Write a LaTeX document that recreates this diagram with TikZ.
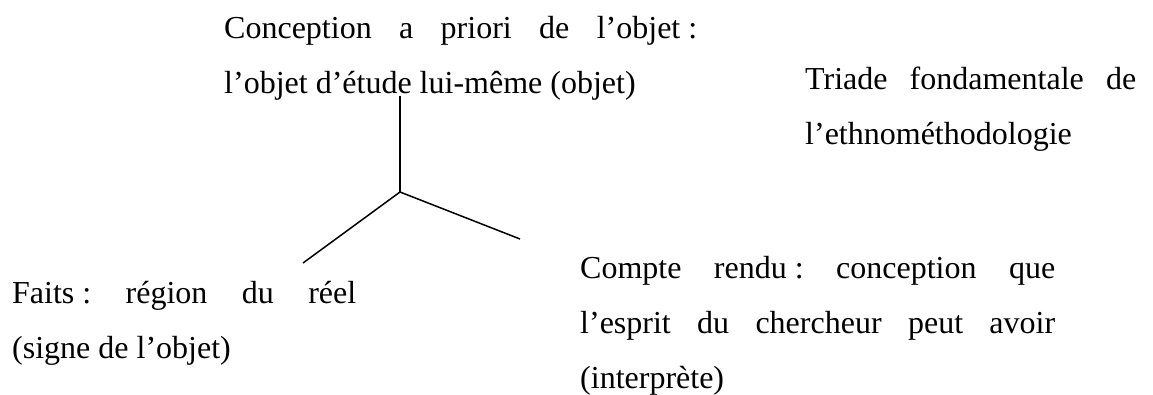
\documentclass[tikz,border=0pt]{standalone}
\usepackage{fontspec}
\setmainfont{Liberation Serif}

% espace insécable devant les deux-points
\newcommand{\ponct}{\nobreak\hspace{.25em}}
\hbadness=10000

\begin{document}
\begin{tikzpicture}[x=1pt, y=-1pt,
    texte/.style={anchor=base west, inner sep=0pt, align=justify,
        font=\fontsize{32}{55}\selectfont\frenchspacing},
    trait/.style={line width=1.5pt}]
    \useasboundingbox (0,0) rectangle (1153,394);

    \node[texte, text width=473pt] (objet) at (224,38)
        {Conception a priori de l'objet\ponct:\linebreak l'objet d'étude lui-même (objet)};
    \node[texte, text width=331pt] (triade) at (805,89)
        {Triade fondamentale de\linebreak l'ethnométhodologie};
    \node[texte, text width=344pt] (faits) at (12,303)
        {Faits\ponct: région du réel\linebreak (signe de l'objet)};
    \node[texte, text width=475pt] (compte) at (580,278)
        {Compte rendu\ponct: conception que\linebreak l'esprit du chercheur peut avoir\linebreak (interprète)};

    % les trois branches
    \coordinate (centre) at (400,192);
    \coordinate (haut) at (400,96);
    \coordinate (gauche) at (303,263);
    \coordinate (droite) at (520,239);

    \draw[trait] (centre) -- (haut);
    \draw[trait] (centre) -- (gauche);
    \draw[trait] (centre) -- (droite);
\end{tikzpicture}
\end{document}
